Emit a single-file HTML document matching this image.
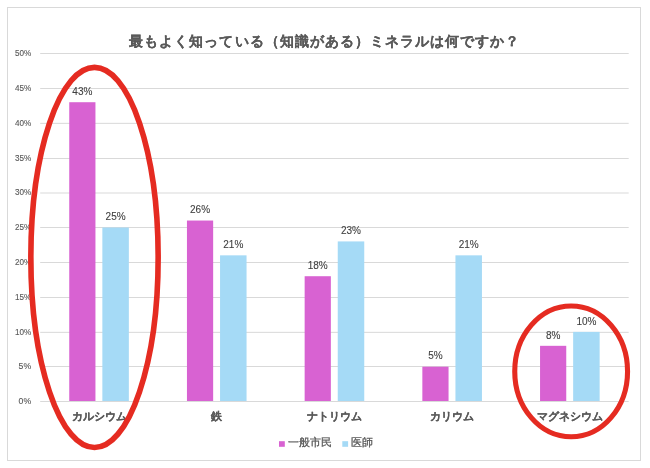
<!DOCTYPE html>
<html><head><meta charset="utf-8"><style>
html,body{margin:0;padding:0;background:#fff;width:650px;height:468px;overflow:hidden}
svg{display:block;will-change:transform}
text{font-family:"Liberation Sans",sans-serif}
.yl{font-size:9.0px;fill:#595959;stroke:#595959;stroke-width:0.12px}
.dl{font-size:10px;fill:#404040;stroke:#404040;stroke-width:0.1px}
.cl{font-size:11px;font-weight:bold;fill:#595959;stroke:#595959;stroke-width:0.15px}
.lg{font-size:11px;fill:#595959;stroke:#595959;stroke-width:0.3px}
.tt{font-size:13.8px;letter-spacing:1.03px;font-weight:bold;fill:#595959;stroke:#595959;stroke-width:0.15px}
</style></head><body>
<svg width="650" height="468" viewBox="0 0 650 468">
<rect x="7.5" y="7.5" width="633" height="453" fill="#fff" stroke="#d9d9d9" stroke-width="1"/>
<line x1="40.2" y1="401.50" x2="628.7" y2="401.50" stroke="#d9d9d9" stroke-width="1"/>
<text x="31.2" y="403.70" text-anchor="end" class="yl" textLength="12.6" lengthAdjust="spacingAndGlyphs">0%</text>
<line x1="40.2" y1="366.50" x2="628.7" y2="366.50" stroke="#d9d9d9" stroke-width="1"/>
<text x="31.2" y="368.70" text-anchor="end" class="yl" textLength="12.6" lengthAdjust="spacingAndGlyphs">5%</text>
<line x1="40.2" y1="332.35" x2="628.7" y2="332.35" stroke="#d9d9d9" stroke-width="1"/>
<text x="31.2" y="334.55" text-anchor="end" class="yl" textLength="16.3" lengthAdjust="spacingAndGlyphs">10%</text>
<line x1="40.2" y1="297.50" x2="628.7" y2="297.50" stroke="#d9d9d9" stroke-width="1"/>
<text x="31.2" y="299.70" text-anchor="end" class="yl" textLength="16.3" lengthAdjust="spacingAndGlyphs">15%</text>
<line x1="40.2" y1="262.50" x2="628.7" y2="262.50" stroke="#d9d9d9" stroke-width="1"/>
<text x="31.2" y="264.70" text-anchor="end" class="yl" textLength="16.3" lengthAdjust="spacingAndGlyphs">20%</text>
<line x1="40.2" y1="227.50" x2="628.7" y2="227.50" stroke="#d9d9d9" stroke-width="1"/>
<text x="31.2" y="229.70" text-anchor="end" class="yl" textLength="16.3" lengthAdjust="spacingAndGlyphs">25%</text>
<line x1="40.2" y1="193.00" x2="628.7" y2="193.00" stroke="#d9d9d9" stroke-width="1"/>
<text x="31.2" y="195.20" text-anchor="end" class="yl" textLength="16.3" lengthAdjust="spacingAndGlyphs">30%</text>
<line x1="40.2" y1="158.50" x2="628.7" y2="158.50" stroke="#d9d9d9" stroke-width="1"/>
<text x="31.2" y="160.70" text-anchor="end" class="yl" textLength="16.3" lengthAdjust="spacingAndGlyphs">35%</text>
<line x1="40.2" y1="123.35" x2="628.7" y2="123.35" stroke="#d9d9d9" stroke-width="1"/>
<text x="31.2" y="125.55" text-anchor="end" class="yl" textLength="16.3" lengthAdjust="spacingAndGlyphs">40%</text>
<line x1="40.2" y1="88.50" x2="628.7" y2="88.50" stroke="#d9d9d9" stroke-width="1"/>
<text x="31.2" y="90.70" text-anchor="end" class="yl" textLength="16.3" lengthAdjust="spacingAndGlyphs">45%</text>
<line x1="40.2" y1="53.50" x2="628.7" y2="53.50" stroke="#d9d9d9" stroke-width="1"/>
<text x="31.2" y="55.70" text-anchor="end" class="yl" textLength="16.3" lengthAdjust="spacingAndGlyphs">50%</text>
<rect x="69.25" y="102.22" width="26.20" height="298.78" fill="#d862d2"/>
<text x="82.35" y="94.92" text-anchor="middle" class="dl">43%</text>
<rect x="102.35" y="227.50" width="26.50" height="173.50" fill="#a5daf6"/>
<text x="115.60" y="220.20" text-anchor="middle" class="dl">25%</text>
<text x="99.05" y="420.0" text-anchor="middle" class="cl">カルシウム</text>
<rect x="186.95" y="220.54" width="26.20" height="180.46" fill="#d862d2"/>
<text x="200.05" y="213.24" text-anchor="middle" class="dl">26%</text>
<rect x="220.05" y="255.34" width="26.50" height="145.66" fill="#a5daf6"/>
<text x="233.30" y="248.04" text-anchor="middle" class="dl">21%</text>
<text x="216.75" y="420.0" text-anchor="middle" class="cl">鉄</text>
<rect x="304.65" y="276.22" width="26.20" height="124.78" fill="#d862d2"/>
<text x="317.75" y="268.92" text-anchor="middle" class="dl">18%</text>
<rect x="337.75" y="241.42" width="26.50" height="159.58" fill="#a5daf6"/>
<text x="351.00" y="234.12" text-anchor="middle" class="dl">23%</text>
<text x="334.45" y="420.0" text-anchor="middle" class="cl">ナトリウム</text>
<rect x="422.35" y="366.70" width="26.20" height="34.30" fill="#d862d2"/>
<text x="435.45" y="359.40" text-anchor="middle" class="dl">5%</text>
<rect x="455.45" y="255.34" width="26.50" height="145.66" fill="#a5daf6"/>
<text x="468.70" y="248.04" text-anchor="middle" class="dl">21%</text>
<text x="452.15" y="420.0" text-anchor="middle" class="cl">カリウム</text>
<rect x="540.05" y="345.82" width="26.20" height="55.18" fill="#d862d2"/>
<text x="553.15" y="338.52" text-anchor="middle" class="dl">8%</text>
<rect x="573.15" y="331.90" width="26.50" height="69.10" fill="#a5daf6"/>
<text x="586.40" y="324.60" text-anchor="middle" class="dl">10%</text>
<text x="569.85" y="420.0" text-anchor="middle" class="cl">マグネシウム</text>
<rect x="279" y="441.2" width="5.8" height="5.6" fill="#d862d2"/>
<text x="288" y="446.4" class="lg">一般市民</text>
<rect x="342.3" y="441.2" width="5.8" height="5.6" fill="#a5daf6"/>
<text x="351.4" y="446.4" class="lg">医師</text>
<text x="324.7" y="45.6" text-anchor="middle" class="tt">最もよく知っている（知識がある）ミネラルは何ですか？</text>
<ellipse cx="94.5" cy="257.4" rx="63.65" ry="190.05" fill="none" stroke="#e52b21" stroke-width="5.6"/>
<ellipse cx="571.15" cy="371.4" rx="56.4" ry="65.35" fill="none" stroke="#e52b21" stroke-width="5.1"/>
</svg>
</body></html>
